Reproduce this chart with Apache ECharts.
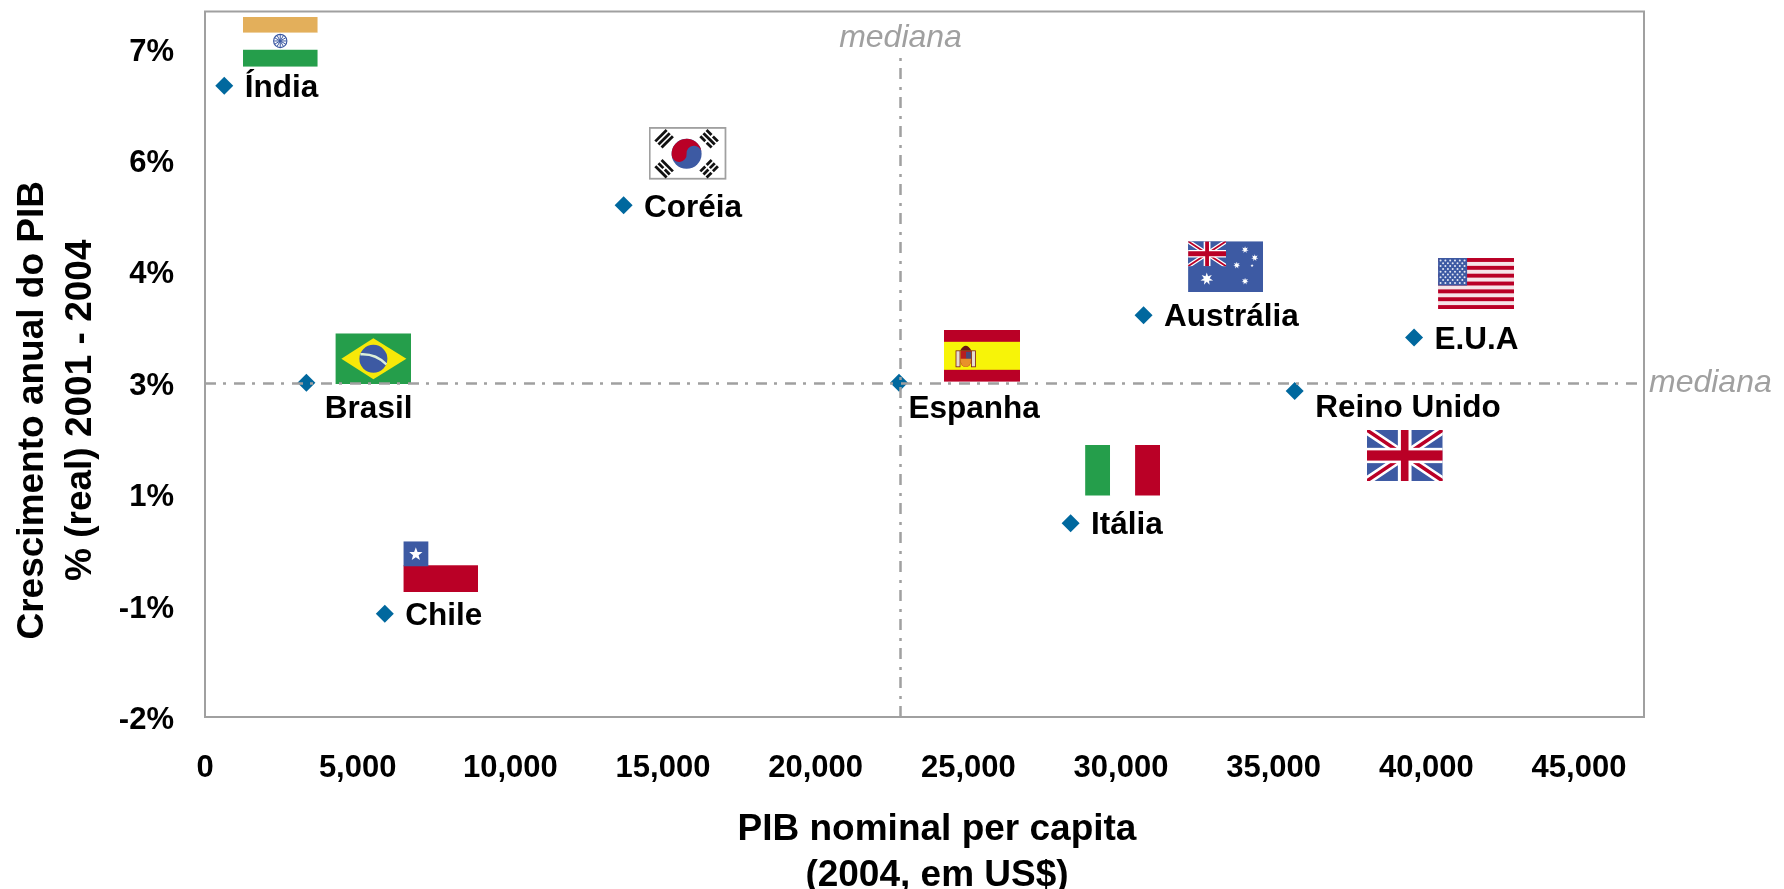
<!DOCTYPE html>
<html>
<head>
<meta charset="utf-8">
<style>html,body{margin:0;padding:0;background:#fff}#c{width:1784px;height:889px}</style>
<script src="https://cdn.jsdelivr.net/npm/echarts@6/dist/echarts.min.js"></script>
</head>
<body>
<div id="c"></div>
<script>
// ---- data ----
const countries = ['Índia','Coréia','Brasil','Chile','Espanha','Itália','Austrália','E.U.A','Reino Unido'];
const pibPerCapita = [630,13710,3320,5890,22730,28350,30740,39600,35690];
const crescimento = [6.50,4.89,2.50,-0.61,2.50,0.61,3.41,3.11,2.39];
const xTickValues = [0,5000,10000,15000,20000,25000,30000,35000,40000,45000];
const yTickValues = [-2,-0.5,1,2.5,4,5.5,7];
const yTickLabels = ['-2%','-1%','1%','3%','4%','6%','7%'];
const medianaX = 22780;
const medianaY = 2.49;
const medianaYTop = 6.98;
const xMin = 0, xMax = 47130, yMin = -2, yMax = 7.5;

// ---- flags (decoration, placed relative to each country's point) ----
const R='#BA0026', B='#3D5AA3', G='#259E4B', W='#FFFFFF';
const svg=(w,h,body)=>'image://data:image/svg+xml;charset=utf-8,'+encodeURIComponent(
  `<svg xmlns="http://www.w3.org/2000/svg" width="${w}" height="${h}" viewBox="0 0 ${w} ${h}">${body}</svg>`);
const star=(cx,cy,r,fill,n=5,k=0.42)=>{let p=[];for(let i=0;i<n*2;i++){const a=-Math.PI/2+i*Math.PI/n,q=i%2?r*k:r;p.push((cx+q*Math.cos(a)).toFixed(2)+','+(cy+q*Math.sin(a)).toFixed(2));}return `<polygon points="${p.join(' ')}" fill="${fill}"/>`;};
const jack=(w,h)=>`<rect width="${w}" height="${h}" fill="${B}"/>
 <path d="M0 0L${w} ${h}M${w} 0L0 ${h}" stroke="#fff" stroke-width="${h*0.17}"/>
 <path d="M0 0L${w} ${h}M${w} 0L0 ${h}" stroke="${R}" stroke-width="${h*0.07}"/>
 <rect x="${w/2-w*0.09}" width="${w*0.18}" height="${h}" fill="#fff"/><rect y="${h/2-h*0.15}" width="${w}" height="${h*0.3}" fill="#fff"/>
 <rect x="${w/2-w*0.05}" width="${w*0.1}" height="${h}" fill="${R}"/><rect y="${h/2-h*0.1}" width="${w}" height="${h*0.2}" fill="${R}"/>`;

const trigram=(cx,cy,rot,pat)=>{let s=`<g transform="translate(${cx} ${cy}) rotate(${rot})">`;
  pat.forEach((broken,i)=>{const y=-4.4+i*4.4; if(broken){s+=`<rect x="-8" y="${y-1.4}" width="7" height="2.8"/><rect x="1" y="${y-1.4}" width="7" height="2.8"/>`;}else{s+=`<rect x="-8" y="${y-1.4}" width="16" height="2.8"/>`;}});
  return s+'</g>';};

const indiaSpokes=(()=>{let s='';for(let i=0;i<12;i++){const a=i*Math.PI/6;s+=`<line x1="37.5" y1="24.2" x2="${(37.5+6*Math.cos(a)).toFixed(2)}" y2="${(24.2+6*Math.sin(a)).toFixed(2)}" stroke="#3D5AA3" stroke-width="1"/>`;}return s;})();
const usStripes=(()=>{let s=`<rect width="76" height="51" fill="#F6E4E8"/>`;for(let i=0;i<7;i++){s+=`<rect y="${(i*2*51/13).toFixed(2)}" width="76" height="${(51/13).toFixed(2)}" fill="${R}"/>`;}
  s+=`<rect width="29" height="27.5" fill="${B}"/>`;
  for(let r=0;r<9;r++){const n=r%2?5:6;for(let c=0;c<n;c++){s+=`<circle cx="${(r%2?5:2.5)+c*4.8}" cy="${2.5+r*2.8}" r="1" fill="#E4E8F4"/>`;}}return s;})();

const flagSvg = {
 'Índia': svg(75,50,`<rect width="75" height="16" fill="#E3AF5B"/><rect y="16" width="75" height="17" fill="#fff"/><rect y="33" width="75" height="17" fill="${G}"/><circle cx="37.5" cy="24.2" r="6.6" fill="#fff" stroke="#3D5AA3" stroke-width="1.2"/>${indiaSpokes}`),
 'Coréia': svg(78,53,`<rect x="1" y="1" width="76" height="51" fill="#fff" stroke="#A0A0A0" stroke-width="2"/><circle cx="38" cy="27" r="15" fill="${B}"/><path d="M23 27A15 15 0 0 1 53 27A7.5 7.5 0 0 0 38 27A7.5 7.5 0 0 1 23 27Z" fill="${R}" transform="rotate(-5 38 27)"/><g fill="#111">${trigram(15.5,12,-45,[0,0,0])}${trigram(60.5,12,45,[1,0,1])}${trigram(15.5,42,45,[0,1,0])}${trigram(60.5,42,-45,[1,1,1])}</g>`),
 'Brasil': svg(76,51,`<rect width="76" height="51" fill="${G}"/><polygon points="6,25.5 38,5 71,25.5 38,46" fill="#F7E808"/><circle cx="38" cy="25.5" r="14" fill="${B}"/><path d="M25 21Q40 20 51 31" fill="none" stroke="#DDEFD8" stroke-width="2.4"/>`),
 'Chile': svg(75,51,`<rect width="75" height="25" fill="#fff"/><rect y="24" width="75" height="27" fill="${R}"/><rect width="25" height="25" fill="${B}"/>${star(12.5,13,7,'#fff')}`),
 'Espanha': svg(76,52,`<rect width="76" height="52" fill="${R}"/><rect y="12" width="76" height="28" fill="#F7F408"/><rect x="12" y="21" width="4" height="16" fill="#E6DCD0" stroke="#7A1A1A" stroke-width="0.8"/><rect x="27.5" y="21" width="4" height="16" fill="#E6DCD0" stroke="#7A1A1A" stroke-width="0.8"/><path d="M16.5 21H27V31Q27 37 21.7 37Q16.5 37 16.5 31Z" fill="#B81E1E"/><rect x="22" y="22" width="5" height="7" fill="#4A4A78"/><path d="M16.5 29H27Q27 37 21.7 37Q16.5 37 16.5 29Z" fill="#E8922A"/><path d="M16 21Q21.7 11 27.5 21Z" fill="#6A1414"/>`),
 'Itália': svg(75,51,`<rect width="25" height="51" fill="${G}"/><rect x="25" width="25" height="51" fill="#fff"/><rect x="50" width="25" height="51" fill="${R}"/>`),
 'Austrália': svg(75,51,`<rect width="75" height="51" fill="${B}"/><svg width="38" height="25" viewBox="0 0 38 25">${jack(38,25)}</svg>${star(18.7,37.7,6.5,'#fff',7,0.45)}${star(57,8.5,3.6,'#fff',7,0.45)}${star(66.7,16.5,3.6,'#fff',7,0.45)}${star(48.7,24,3.6,'#fff',7,0.45)}${star(57,40,3.6,'#fff',7,0.45)}${star(64,24.3,1.7,'#fff')}`),
 'E.U.A': svg(76,51,usStripes),
 'Reino Unido': svg(76,51,jack(76,51))
};
// flag size and centre offset from the point, in pixels
const flagPlace = {
 'Índia':{s:[75,50],o:[56,-44]}, 'Coréia':{s:[78,53],o:[64,-52]}, 'Brasil':{s:[76,51],o:[67,-24]},
 'Chile':{s:[75,51],o:[56,-47]}, 'Espanha':{s:[76,52],o:[83,-27]}, 'Itália':{s:[75,51],o:[52,-53]},
 'Austrália':{s:[75,51],o:[82,-48.5]}, 'E.U.A':{s:[76,51],o:[62,-54]}, 'Reino Unido':{s:[76,51],o:[110,64.5]}
};
// label offset from the default "right" position
const labelOffset = {
 'Brasil':[-2,24], 'Espanha':[-11,24], 'Reino Unido':[0,15]
};

const FONT='"Liberation Sans", Arial, sans-serif';
const points = countries.map((n,i)=>{
  const off=labelOffset[n]||[0,0];
  return {name:n, value:[pibPerCapita[i],crescimento[i]], label:{offset:[off[0],off[1]+2.5]}};
});
const flags = countries.map((n,i)=>({
  name:n, value:[pibPerCapita[i],crescimento[i]],
  symbol:flagSvg[n], symbolSize:flagPlace[n].s, symbolOffset:flagPlace[n].o
}));

const chart = echarts.init(document.getElementById('c'),null,{renderer:'canvas'});
chart.setOption({
  animation:false,
  backgroundColor:'#fff',
  grid:{left:205,top:11.5,right:140,bottom:172,show:true,borderColor:'#A0A0A0',borderWidth:2,backgroundColor:'transparent',outerBoundsMode:'none'},
  xAxis:{
    type:'value',min:xMin,max:xMax,
    axisLine:{show:false},axisTick:{show:false},splitLine:{show:false},
    axisLabel:{customValues:xTickValues,margin:36,color:'#000',fontFamily:FONT,fontWeight:'bold',fontSize:31,
      formatter:v=>v.toLocaleString('en-US')},
    name:'PIB nominal per capita\n(2004, em US$)',nameLocation:'middle',nameGap:90,
    nameTextStyle:{color:'#000',fontFamily:FONT,fontWeight:'bold',fontSize:37,lineHeight:46,padding:[0,0,0,25]}
  },
  yAxis:{
    type:'value',min:yMin,max:yMax,
    axisLine:{show:false},axisTick:{show:false},splitLine:{show:false},
    axisLabel:{customValues:yTickValues,margin:31,color:'#000',fontFamily:FONT,fontWeight:'bold',fontSize:31,
      verticalAlign:'top',lineHeight:7,
      formatter:v=>yTickLabels[yTickValues.indexOf(v)]},
    name:'Crescimento anual do PIB\n% (real) 2001 - 2004',nameLocation:'middle',nameGap:100,nameRotate:90,
    nameTextStyle:{color:'#000',fontFamily:FONT,fontWeight:'bold',fontSize:37,lineHeight:48,padding:[0,92,0,0]}
  },
  series:[
    {type:'scatter',name:'bandeiras',z:2,silent:true,data:flags,label:{show:false},clip:false,itemStyle:{opacity:1}},
    {type:'scatter',name:'países',z:3,symbol:'diamond',symbolSize:18,data:points,clip:false,
      itemStyle:{color:'#00689E',opacity:1},
      label:{show:true,position:'right',distance:11.5,formatter:'{b}',color:'#000',fontFamily:FONT,fontWeight:'bold',fontSize:31.5}},
    {type:'scatter',name:'mediana',z:4,data:[],
      markLine:{silent:true,symbol:'none',animation:false,z:4,
        lineStyle:{color:'#A0A0A0',width:2.5,type:[11,7,3,8],opacity:1},
        label:{show:true,formatter:'mediana',color:'#A0A0A0',fontFamily:FONT,fontStyle:'italic',fontSize:32},
        data:[
          [{coord:[medianaX,yMin],label:{position:'end',distance:1,offset:[0,4.5]}},{coord:[medianaX,medianaYTop]}],
          [{coord:[xMin,medianaY],label:{position:'end',distance:5}},{coord:[xMax,medianaY]}]
        ]}
    }
  ]
});
</script>
</body>
</html>
